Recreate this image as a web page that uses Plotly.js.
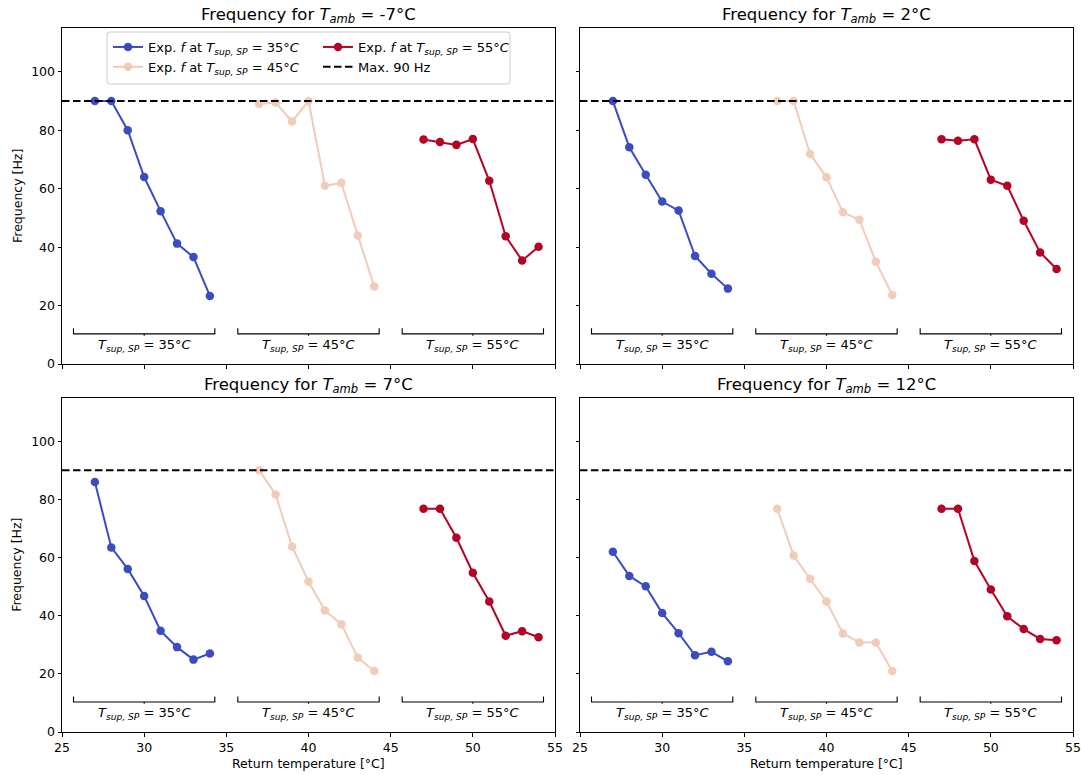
<!DOCTYPE html>
<html>
<head>
<meta charset="utf-8">
<script src="https://cdn.plot.ly/plotly-3.0.1.min.js"></script>
<style>
  html, body { margin: 0; padding: 0; background: #ffffff; }
  #chart { width: 1081px; height: 775px; }
</style>
</head>
<body>
<div id="chart"></div>
<script>
// Return temperatures [°C] measured for each supply set point
const returnTemps35 = [27, 28, 29, 30, 31, 32, 33, 34];
const returnTemps45 = [37, 38, 39, 40, 41, 42, 43, 44];
const returnTemps55 = [47, 48, 49, 50, 51, 52, 53, 54];

// Supply set points and their bracket centres on the return-temperature axis
const setPoints = [35, 45, 55];
const bracketCentres = [30, 40, 50];

// Ambient temperatures, one panel each
const ambientTemps = ['-7', '2', '7', '12'];

// Compressor frequency [Hz], T_amb = -7 °C
const freq35_m7 = [90, 90, 80, 64, 52.3, 41.2, 36.6, 23.3];
const freq45_m7 = [89, 89.5, 83, 90, 61, 62, 44, 26.5];
const freq55_m7 = [76.8, 76, 75, 77, 62.7, 43.7, 35.4, 40.1];

// T_amb = 2 °C
const freq35_2 = [90, 74.2, 64.8, 55.6, 52.5, 37, 30.9, 25.8];
const freq45_2 = [90, 90, 71.9, 63.9, 51.9, 49.4, 35, 23.6];
const freq55_2 = [76.9, 76.4, 76.9, 63.1, 61, 49, 38.2, 32.5];

// T_amb = 7 °C
const freq35_7 = [86, 63.5, 56.1, 46.8, 34.8, 29.2, 24.9, 27];
const freq45_7 = [90, 81.7, 63.8, 51.8, 41.8, 37.1, 25.6, 21];
const freq55_7 = [76.8, 76.8, 66.8, 54.8, 44.9, 33.1, 34.7, 32.6];

// T_amb = 12 °C
const freq35_12 = [62, 53.7, 50.1, 40.9, 34, 26.4, 27.6, 24.3];
const freq45_12 = [76.8, 60.7, 52.7, 44.9, 33.9, 30.8, 30.8, 21];
const freq55_12 = [76.8, 76.8, 58.8, 49, 39.8, 35.4, 32, 31.6];

// Compressor limit
const MAX_FREQ = 90;
const X_RANGE = [25, 55];
const Y_RANGE = [0, 115];

const W = 1081, H = 775;
const px = x => x / W;
const py = y => 1 - y / H;

const FONT = 'DejaVu Sans, Liberation Sans, sans-serif';
const colors = { 35: '#3b4cc0', 45: '#f1ccb8', 55: '#b40426' };

const panels = [
  { amb: ambientTemps[0], series: [freq35_m7, freq45_m7, freq55_m7], xa: 'x',  ya: 'y'  },
  { amb: ambientTemps[1], series: [freq35_2,  freq45_2,  freq55_2 ], xa: 'x2', ya: 'y2' },
  { amb: ambientTemps[2], series: [freq35_7,  freq45_7,  freq55_7 ], xa: 'x3', ya: 'y3' },
  { amb: ambientTemps[3], series: [freq35_12, freq45_12, freq55_12], xa: 'x4', ya: 'y4' }
];
const xGroups = [returnTemps35, returnTemps45, returnTemps55];

const tsup = '<i>T</i><sub><i>sup, SP</i></sub>';

const traces = [];
panels.forEach((p, pi) => {
  setPoints.forEach((sp, si) => {
    traces.push({
      type: 'scatter', mode: 'lines+markers',
      x: xGroups[si], y: p.series[si],
      xaxis: p.xa, yaxis: p.ya,
      line: { color: colors[sp], width: 2 },
      marker: { color: colors[sp], size: 8.5 },
      name: 'Exp. <i>f</i> at ' + tsup + ' = ' + sp + '°<i>C</i>',
      showlegend: pi === 0,
      legend: sp === 55 ? 'legend2' : 'legend',
      hoverinfo: 'x+y'
    });
  });
  traces.push({
    type: 'scatter', mode: 'lines',
    x: X_RANGE, y: [MAX_FREQ, MAX_FREQ],
    xaxis: p.xa, yaxis: p.ya,
    line: { color: '#000000', width: 2, dash: '7.5px,3.5px' },
    name: 'Max. ' + MAX_FREQ + ' Hz',
    showlegend: pi === 0,
    legend: 'legend2',
    hoverinfo: 'y'
  });
});

// Panel placement in pixels
const colX = [[62, 555], [580, 1073]];
const rowY = [[28, 364], [397.7, 732]];

function axisBase() {
  return {
    showline: true, mirror: true, linecolor: '#000000', linewidth: 1,
    ticks: 'outside', ticklen: 3.5, tickwidth: 1, tickcolor: '#000000',
    showgrid: false, zeroline: false, fixedrange: true,
    tickfont: { family: FONT, size: 12.5, color: '#000000' }
  };
}

const legendStyle = {
  xanchor: 'left', yanchor: 'top',
  bgcolor: 'rgba(0,0,0,0)', borderwidth: 0,
  font: { family: FONT, size: 13, color: '#000000' },
  tracegroupgap: 0, itemclick: false, itemdoubleclick: false
};

const layout = {
  width: W, height: H,
  margin: { l: 0, r: 0, t: 0, b: 0 },
  paper_bgcolor: '#ffffff', plot_bgcolor: '#ffffff',
  font: { family: FONT, color: '#000000' },
  showlegend: true,
  legend: Object.assign({ x: px(108), y: py(32) }, legendStyle),
  legend2: Object.assign({ x: px(318), y: py(32) }, legendStyle),
  shapes: [],
  annotations: []
};

panels.forEach((p, pi) => {
  const col = pi % 2, row = Math.floor(pi / 2);
  const xName = 'xaxis' + (pi === 0 ? '' : pi + 1);
  const yName = 'yaxis' + (pi === 0 ? '' : pi + 1);
  const xa = axisBase(), ya = axisBase();
  xa.domain = [px(colX[col][0]), px(colX[col][1])];
  xa.range = X_RANGE.slice();
  xa.tickvals = [25, 30, 35, 40, 45, 50, 55];
  xa.showticklabels = row === 1;
  xa.anchor = p.ya;
  ya.domain = [py(rowY[row][1]), py(rowY[row][0])];
  ya.range = Y_RANGE.slice();
  ya.tickvals = [0, 20, 40, 60, 80, 100];
  ya.showticklabels = col === 0;
  ya.anchor = p.xa;
  layout[xName] = xa;
  layout[yName] = ya;

  // Panel title
  layout.annotations.push({
    xref: 'paper', yref: 'paper',
    x: px((colX[col][0] + colX[col][1]) / 2), y: py(rowY[row][0] - 12),
    xanchor: 'center', yanchor: 'middle', showarrow: false,
    text: 'Frequency for <i>T</i><sub><i>amb</i></sub> = ' + p.amb + '°C',
    font: { family: FONT, size: 16.5, color: '#000000' }
  });

  // Set-point brackets with labels
  bracketCentres.forEach((c, bi) => {
    const half = 4.3, yLine = 10.3, yTop = 12.2, yStub = 9.7;
    layout.shapes.push({
      type: 'path', xref: p.xa, yref: p.ya,
      path: `M${c - half},${yTop} L${c - half},${yLine} L${c + half},${yLine} L${c + half},${yTop} M${c},${yLine} L${c},${yStub}`,
      line: { color: '#000000', width: 1.1 }
    });
    layout.annotations.push({
      xref: p.xa, yref: p.ya, x: c, y: 6.2,
      xanchor: 'center', yanchor: 'middle', showarrow: false,
      text: tsup + ' = ' + setPoints[bi] + '°<i>C</i>',
      font: { family: FONT, size: 13, color: '#000000' }
    });
  });

  // Axis titles
  if (row === 1) {
    layout.annotations.push({
      xref: 'paper', yref: 'paper',
      x: px((colX[col][0] + colX[col][1]) / 2), y: py(763),
      xanchor: 'center', yanchor: 'middle', showarrow: false,
      text: 'Return temperature [°C]',
      font: { family: FONT, size: 12.5, color: '#000000' }
    });
  }
  if (col === 0) {
    layout.annotations.push({
      xref: 'paper', yref: 'paper',
      x: px(17), y: py((rowY[row][0] + rowY[row][1]) / 2),
      xanchor: 'center', yanchor: 'middle', showarrow: false, textangle: -90,
      text: 'Frequency [Hz]',
      font: { family: FONT, size: 12.5, color: '#000000' }
    });
  }
});

// Frame around both legend columns (rounded corners)
(function () {
  const x0 = 107, x1 = 510, y0 = 32, y1 = 84, r = 3;
  const X = v => px(v), Y = v => py(v);
  const path = [
    `M${X(x0 + r)},${Y(y0)}`, `L${X(x1 - r)},${Y(y0)}`,
    `Q${X(x1)},${Y(y0)} ${X(x1)},${Y(y0 + r)}`,
    `L${X(x1)},${Y(y1 - r)}`,
    `Q${X(x1)},${Y(y1)} ${X(x1 - r)},${Y(y1)}`,
    `L${X(x0 + r)},${Y(y1)}`,
    `Q${X(x0)},${Y(y1)} ${X(x0)},${Y(y1 - r)}`,
    `L${X(x0)},${Y(y0 + r)}`,
    `Q${X(x0)},${Y(y0)} ${X(x0 + r)},${Y(y0)}`, 'Z'
  ].join(' ');
  layout.shapes.push({
    type: 'path', xref: 'paper', yref: 'paper', path: path,
    line: { color: '#cccccc', width: 1 },
    fillcolor: 'rgba(255,255,255,0.8)', layer: 'above'
  });
})();

Plotly.newPlot('chart', traces, layout, { displayModeBar: false, responsive: false });
</script>
</body>
</html>
